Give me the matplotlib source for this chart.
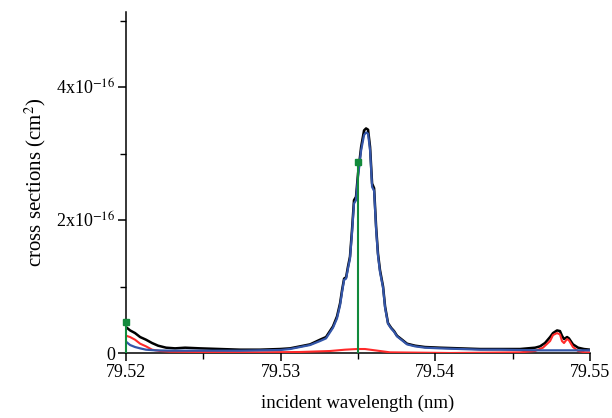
import numpy as np
import matplotlib
matplotlib.use('Agg')
import matplotlib.pyplot as plt
from matplotlib.ticker import MultipleLocator, FixedLocator, FixedFormatter

plt.rcParams['font.family'] = ['Liberation Serif', 'DejaVu Serif']
plt.rcParams['mathtext.fontset'] = 'stix'

# total cross section (black)
x_total = [79.52000, 79.52026, 79.52058, 79.52091, 79.52129, 79.52168, 79.52207, 79.52259,
           79.52317, 79.52382, 79.52479, 79.52608, 79.52737, 79.52866, 79.52996, 79.53060,
           79.53125, 79.53190, 79.53254, 79.53293, 79.53338, 79.53364, 79.53384, 79.53397,
           79.53410, 79.53423, 79.53435, 79.53448, 79.53461, 79.53474, 79.53487, 79.53500,
           79.53520, 79.53539, 79.53552, 79.53565, 79.53578, 79.53591, 79.53604, 79.53617,
           79.53629, 79.53642, 79.53662, 79.53675, 79.53694, 79.53714, 79.53733, 79.53752,
           79.53785, 79.53817, 79.53869, 79.53933, 79.54030, 79.54160, 79.54289, 79.54418,
           79.54548, 79.54645, 79.54677, 79.54709, 79.54742, 79.54761, 79.54787, 79.54806,
           79.54819, 79.54832, 79.54852, 79.54864, 79.54890, 79.54923, 79.54961, 79.55000]
y_total = [0.39, 0.34, 0.30, 0.24, 0.20, 0.15, 0.11, 0.08,
           0.07, 0.08, 0.07, 0.06, 0.05, 0.05, 0.06, 0.07,
           0.10, 0.13, 0.20, 0.24, 0.40, 0.55, 0.75, 0.95,
           1.12, 1.14, 1.30, 1.45, 1.85, 2.30, 2.35, 2.70,
           3.10, 3.35, 3.38, 3.36, 3.10, 2.55, 2.48, 1.90,
           1.50, 1.25, 1.00, 0.70, 0.45, 0.38, 0.33, 0.26,
           0.20, 0.14, 0.11, 0.09, 0.08, 0.07, 0.06, 0.06,
           0.06, 0.08, 0.10, 0.15, 0.24, 0.30, 0.34, 0.33,
           0.26, 0.21, 0.24, 0.22, 0.13, 0.08, 0.06, 0.05]

# first partial (blue)
x_blue = [79.52000, 79.52026, 79.52058, 79.52091, 79.52129, 79.52188, 79.52285, 79.52479,
          79.52737, 79.52996, 79.53060, 79.53125, 79.53190, 79.53254, 79.53293, 79.53338,
          79.53364, 79.53384, 79.53397, 79.53410, 79.53423, 79.53435, 79.53448, 79.53461,
          79.53474, 79.53487, 79.53500, 79.53520, 79.53539, 79.53552, 79.53565, 79.53578,
          79.53591, 79.53604, 79.53617, 79.53629, 79.53642, 79.53662, 79.53675, 79.53694,
          79.53714, 79.53733, 79.53752, 79.53785, 79.53817, 79.53869, 79.53933, 79.54030,
          79.54160, 79.54289, 79.54418, 79.54548, 79.54677, 79.54806, 79.55000]
y_blue = [0.17, 0.12, 0.09, 0.07, 0.05, 0.04, 0.035, 0.035,
          0.035, 0.045, 0.06, 0.09, 0.12, 0.18, 0.22, 0.38,
          0.52, 0.72, 0.92, 1.10, 1.12, 1.27, 1.42, 1.80,
          2.25, 2.30, 2.65, 3.05, 3.28, 3.32, 3.30, 3.05,
          2.50, 2.44, 1.86, 1.47, 1.22, 0.98, 0.68, 0.44,
          0.37, 0.32, 0.25, 0.19, 0.13, 0.10, 0.08, 0.07,
          0.06, 0.05, 0.05, 0.045, 0.04, 0.04, 0.04]

# second partial (red)
x_red = [79.52000, 79.52026, 79.52058, 79.52091, 79.52129, 79.52168, 79.52220, 79.52285,
         79.52479, 79.52866, 79.53125, 79.53319, 79.53416, 79.53494, 79.53545, 79.53610,
         79.53707, 79.54095, 79.54548, 79.54645, 79.54696, 79.54742, 79.54761, 79.54787,
         79.54806, 79.54819, 79.54832, 79.54852, 79.54864, 79.54890, 79.54923, 79.54968,
         79.55000]
y_red = [0.26, 0.24, 0.20, 0.14, 0.10, 0.05, 0.03, 0.02,
         0.015, 0.01, 0.015, 0.03, 0.05, 0.06, 0.06, 0.04,
         0.01, 0.00, 0.01, 0.03, 0.08, 0.18, 0.27, 0.30,
         0.28, 0.18, 0.15, 0.21, 0.19, 0.09, 0.03, 0.01,
         0.01]

# sticks (green)
x_stick = [79.52000, 79.53500]
y_stick = [0.46, 2.88]

scale = 1e-16
y_total = np.array(y_total) * scale
y_blue = np.array(y_blue) * scale
y_red = np.array(y_red) * scale
y_stick = np.array(y_stick) * scale

fig = plt.figure(figsize=(6.12, 4.18), dpi=100)
ax = fig.add_axes([0.206, 0.1555, 0.758, 0.8155])

ax.plot(x_total, y_total, color='black', lw=1.8, zorder=3)
ax.plot(x_red, y_red, color='#ff2a2a', lw=1.5, zorder=4)
ax.plot(x_blue, y_blue, color='#3355a8', lw=1.6, zorder=5)
ax.vlines(x_stick, 0, y_stick, color='#128a3c', lw=1.5, zorder=6, clip_on=False)
ax.plot(x_stick, y_stick, 's', color='#128a3c', ms=4.5, zorder=7, clip_on=False)

ax.set_xlim(79.52, 79.55)
ax.set_ylim(0, 5.13e-16)

for side in ['top', 'right']:
    ax.spines[side].set_visible(False)
for side in ['left', 'bottom']:
    ax.spines[side].set_linewidth(1.1)

ax.xaxis.set_minor_locator(MultipleLocator(0.005))
ax.set_xticks([79.52, 79.53, 79.54, 79.55])
ax.set_xticklabels(['79.52', '79.53', '79.54', '79.55'])
ax.yaxis.set_major_locator(FixedLocator([0, 2e-16, 4e-16]))
ax.yaxis.set_major_formatter(FixedFormatter(['0', r'2x10$^{-16}$', r'4x10$^{-16}$']))
ax.yaxis.set_minor_locator(FixedLocator([1e-16, 3e-16, 5e-16]))

ax.tick_params(which='major', direction='out', length=6, width=1.1, labelsize=13, pad=2)
ax.tick_params(which='minor', direction='out', length=4, width=1.0)

ax.set_xlabel('incident wavelength (nm)', fontsize=13.5, labelpad=10)
ax.set_ylabel(r'cross sections (cm$^2$)', fontsize=15, labelpad=6)

fig.savefig('out.png', dpi=100)
